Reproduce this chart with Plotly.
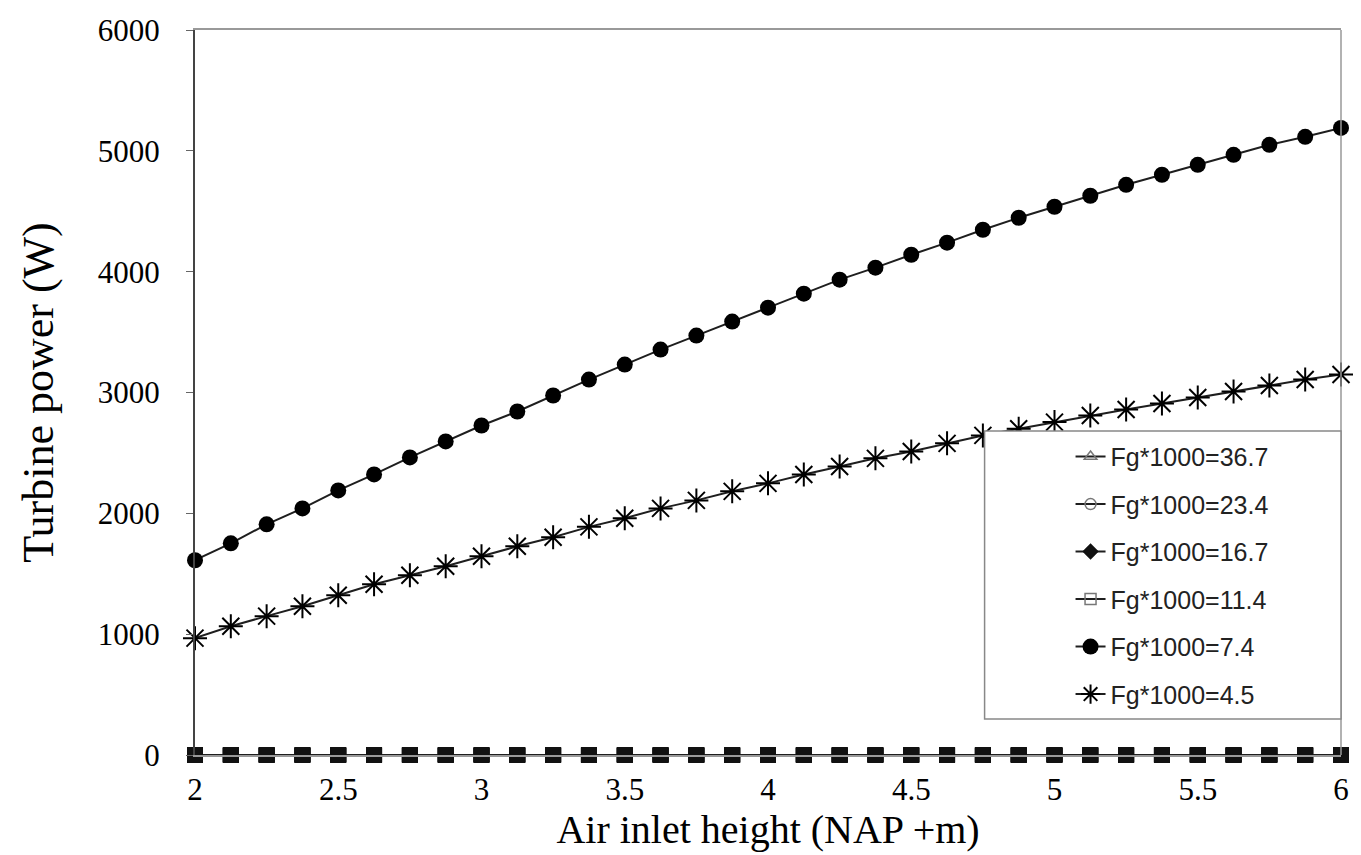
import plotly.graph_objects as go

x_height = [2.0, 2.125, 2.25, 2.375, 2.5, 2.625, 2.75, 2.875, 3.0, 3.125, 3.25,
            3.375, 3.5, 3.625, 3.75, 3.875, 4.0, 4.125, 4.25, 4.375, 4.5, 4.625,
            4.75, 4.875, 5.0, 5.125, 5.25, 5.375, 5.5, 5.625, 5.75, 5.875, 6.0]

p_36_7 = [0] * 33
p_23_4 = [0] * 33
p_16_7 = [0] * 33
p_11_4 = [0] * 33
p_7_4 = [1612, 1752, 1909, 2041, 2190, 2322, 2463, 2595, 2727, 2843, 2975,
         3107, 3231, 3355, 3471, 3587, 3702, 3818, 3934, 4033, 4140, 4240,
         4347, 4446, 4537, 4628, 4719, 4802, 4884, 4967, 5050, 5116, 5190]
p_4_5 = [967, 1066, 1149, 1231, 1322, 1413, 1488, 1562, 1645, 1727, 1802,
         1888, 1959, 2041, 2107, 2182, 2248, 2322, 2388, 2455, 2512, 2579,
         2645, 2700, 2755, 2810, 2860, 2909, 2959, 3008, 3058, 3107, 3149]

names = ["Fg*1000=36.7", "Fg*1000=23.4", "Fg*1000=16.7", "Fg*1000=11.4",
         "Fg*1000=7.4", "Fg*1000=4.5"]
x_ticks = [2, 2.5, 3, 3.5, 4, 4.5, 5, 5.5, 6]
y_ticks = [0, 1000, 2000, 3000, 4000, 5000, 6000]

LINE = "#1e1e1e"
fig = go.Figure()

# zero-valued series (their overlapping markers appear as dark squares)
zero_series = [p_36_7, p_23_4, p_16_7, p_11_4]
for i, ys in enumerate(zero_series):
    fig.add_trace(go.Scatter(
        x=x_height, y=ys, mode="lines+markers", showlegend=False,
        legendgroup=names[i], cliponaxis=False,
        line=dict(color=LINE, width=2),
        marker=dict(symbol="square", size=15, color="#111111",
                    line=dict(color="#111111", width=1))))

legend_symbols = [("triangle-up-open", "#777777", 11),
                  ("circle-open", "#777777", 11),
                  ("diamond", "#111111", 11),
                  ("square-open", "#777777", 11)]
for i, (sym, col, sz) in enumerate(legend_symbols):
    fig.add_trace(go.Scatter(
        x=[None], y=[None], mode="lines+markers", name=names[i],
        legendgroup=names[i],
        line=dict(color=LINE, width=2),
        marker=dict(symbol=sym, size=sz, color=col, line=dict(color=col, width=1.5))))

fig.add_trace(go.Scatter(
    x=x_height, y=p_7_4, mode="lines+markers", name=names[4], legendgroup=names[4],
    cliponaxis=False,
    line=dict(color=LINE, width=2),
    marker=dict(symbol="circle", size=16, color="#000000")))
fig.add_trace(go.Scatter(
    x=x_height, y=p_4_5, mode="lines+markers", name=names[5], legendgroup=names[5],
    cliponaxis=False,
    line=dict(color=LINE, width=2),
    marker=dict(symbol="asterisk-open", size=20, color="#000000",
                line=dict(color="#000000", width=2))))

serif = "Liberation Serif"
fig.update_layout(
    width=1361, height=855,
    margin=dict(l=195, r=18, t=30, b=100),
    paper_bgcolor="white", plot_bgcolor="white",
    font=dict(family=serif, color="black"),
    showlegend=True,
    legend=dict(x=0.764, y=0.443, xanchor="left", yanchor="top",
                bgcolor="rgba(0,0,0,0)", borderwidth=0,
                font=dict(family="Liberation Sans", size=25, color="#222222"),
                tracegroupgap=12, traceorder="grouped"),
    xaxis=dict(range=[2, 6], tickvals=x_ticks, ticktext=[str(t) for t in x_ticks],
               showgrid=False, zeroline=False, showline=True, mirror=True,
               linecolor="#999999", linewidth=1.5, ticks="",
               ticklabelstandoff=6,
               tickfont=dict(family=serif, size=31),
               title=dict(text="Air inlet height (NAP +m)",
                          font=dict(family=serif, size=40), standoff=8)),
    yaxis=dict(range=[0, 6000], tickvals=y_ticks,
               showgrid=False, zeroline=False, showline=True,
               linecolor="#444444", linewidth=2, ticks="outside", ticklen=7,
               tickcolor="#666666", ticklabelstandoff=20,
               tickfont=dict(family=serif, size=31),
               title=dict(text="Turbine power (W)",
                          font=dict(family=serif, size=44), standoff=30)),
    shapes=[
        dict(type="line", xref="paper", yref="paper", x0=1, x1=1, y0=0, y1=1,
             line=dict(color="#999999", width=1.5), layer="above"),
        dict(type="rect", xref="paper", yref="paper",
             x0=0.689, x1=1.0, y0=0.0497, y1=0.447,
             fillcolor="white", line=dict(color="#888888", width=1.5),
             layer="above"),
    ],
)

fig.write_html("out.html")
